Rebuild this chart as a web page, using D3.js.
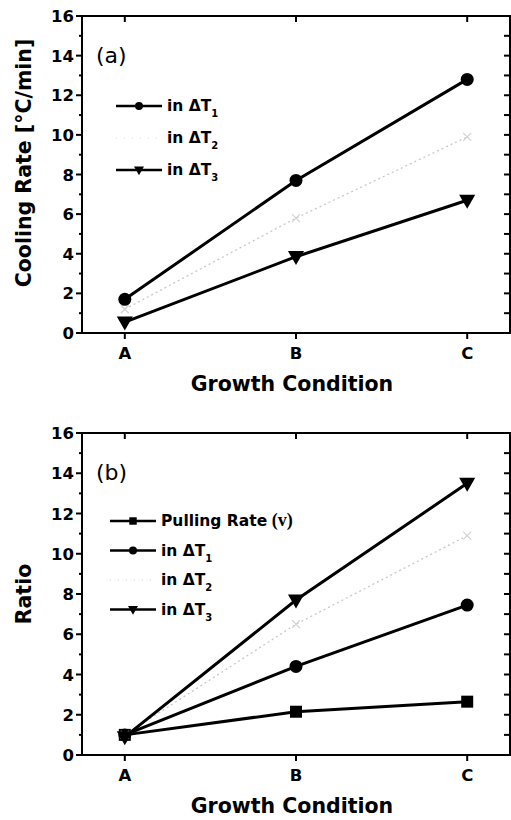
<!DOCTYPE html>
<html>
	<head>
		<title>Cooling Rate and Ratio</title>

		<style>
			body
			{
				margin: 0;
				background: #fff;
			}

			svg
			{
				width: 511px;
				height: 820px;
				display: block;
			}

			.frame, .tick
			{
				stroke: #000;
				stroke-width: 2px;
				fill: none;
			}

			.tickText
			{
				font: bold 16.5px "DejaVu Sans", sans-serif;
				fill: #000;
			}

			.axisTitle
			{
				font: bold 20.5px "DejaVu Sans", sans-serif;
				fill: #000;
				text-anchor: middle;
			}

			.panelLabel
			{
				font: 22px "DejaVu Sans", sans-serif;
				fill: #000;
			}

			.legendText
			{
				font: bold 15.5px "DejaVu Sans", sans-serif;
				fill: #000;
			}

			.seriesLine
			{
				fill: none;
				stroke: #000;
				stroke-width: 3px;
			}

			.faintLine
			{
				fill: none;
				stroke: #c8c8c8;
				stroke-width: 1.3px;
				stroke-dasharray: 2,3;
			}
		</style>

		<script src="https://d3js.org/d3.v7.min.js"></script>
	</head>

	<body>
		<svg></svg>

		<script>
			// categories and tick labels
			const categories = ["A", "B", "C"];
			const yMajorTicks = [0, 2, 4, 6, 8, 10, 12, 14, 16];
			const yMinorTicks = [1, 3, 5, 7, 9, 11, 13, 15];

			// panel (a): cooling rate [°C/min]
			const coolT1 = [1.7, 7.7, 12.8];
			const coolT2 = [1.2, 5.8, 9.9];
			const coolT3 = [0.55, 3.85, 6.7];

			// panel (b): ratio
			const ratioPull = [1.0, 2.15, 2.65];
			const ratioT1 = [1.0, 4.4, 7.45];
			const ratioT2 = [1.0, 6.5, 10.9];
			const ratioT3 = [0.9, 7.7, 13.5];

			const svg = d3.select("svg");

			const x = d3.scalePoint()
				.domain(categories)
				.range([82, 510])
				.padding(0.25);

			function marker(g, type, cx, cy, s, color)
			{
				if (type === "circle")
				{
					g.append("circle").attr("cx", cx).attr("cy", cy).attr("r", s).attr("fill", color);
				}
				else if (type === "square")
				{
					g.append("rect").attr("x", cx - s).attr("y", cy - s)
						.attr("width", 2 * s).attr("height", 2 * s).attr("fill", color);
				}
				else if (type === "tri")
				{
					g.append("path")
						.attr("d", "M" + (cx - s * 1.15) + "," + (cy - s * 0.8) +
							"L" + (cx + s * 1.15) + "," + (cy - s * 0.8) +
							"L" + cx + "," + (cy + s * 1.2) + "Z")
						.attr("fill", color);
				}
				else if (type === "faint")
				{
					g.append("path")
						.attr("d", "M" + (cx - 4) + "," + (cy - 4) + "L" + (cx + 4) + "," + (cy + 4) +
							"M" + (cx - 4) + "," + (cy + 4) + "L" + (cx + 4) + "," + (cy - 4))
						.attr("stroke", "#d2d2d2").attr("stroke-width", 1.2).attr("fill", "none");
				}
			}

			function drawPanel(opt)
			{
				const y = d3.scaleLinear().domain([0, 16]).range([opt.bottom, opt.top]);
				const g = svg.append("g");
				const x0 = x.range()[0], x1 = x.range()[1];

				// series
				opt.series.forEach(function(s)
				{
					const line = d3.line()
						.x(function(d, i) { return x(categories[i]); })
						.y(function(d) { return y(d); });

					g.append("path")
						.datum(s.values)
						.attr("class", s.faint ? "faintLine" : "seriesLine")
						.attr("d", line);

					s.values.forEach(function(v, i)
					{
						marker(g, s.type, x(categories[i]), y(v), s.size, "#000");
					});
				});

				// frame
				g.append("rect")
					.attr("class", "frame")
					.attr("x", x0).attr("y", opt.top)
					.attr("width", x1 - x0).attr("height", opt.bottom - opt.top);

				// left ticks (outward) with labels
				g.selectAll("line.lmaj").data(yMajorTicks).enter().append("line")
					.attr("class", "tick")
					.attr("x1", x0 - 6).attr("x2", x0)
					.attr("y1", function(d) { return y(d); })
					.attr("y2", function(d) { return y(d); });

				g.selectAll("line.lmin").data(yMinorTicks).enter().append("line")
					.attr("class", "tick")
					.attr("x1", x0 - 3).attr("x2", x0)
					.attr("y1", function(d) { return y(d); })
					.attr("y2", function(d) { return y(d); });

				g.selectAll("text.ylab").data(yMajorTicks).enter().append("text")
					.attr("class", "tickText")
					.attr("text-anchor", "end")
					.attr("x", x0 - 8)
					.attr("y", function(d) { return y(d) + 6; })
					.text(function(d) { return d; });

				// right ticks (inward)
				g.selectAll("line.rmaj").data(yMajorTicks.concat(yMinorTicks)).enter().append("line")
					.attr("class", "tick")
					.attr("x1", x1 - 6).attr("x2", x1)
					.attr("y1", function(d) { return y(d); })
					.attr("y2", function(d) { return y(d); });

				// bottom ticks (outward) and top ticks (inward)
				g.selectAll("line.bt").data(categories).enter().append("line")
					.attr("class", "tick")
					.attr("x1", function(d) { return x(d); })
					.attr("x2", function(d) { return x(d); })
					.attr("y1", opt.bottom).attr("y2", opt.bottom + 6);

				g.selectAll("line.tt").data(categories).enter().append("line")
					.attr("class", "tick")
					.attr("x1", function(d) { return x(d); })
					.attr("x2", function(d) { return x(d); })
					.attr("y1", opt.top).attr("y2", opt.top + 6);

				g.selectAll("text.xlab").data(categories).enter().append("text")
					.attr("class", "tickText")
					.attr("text-anchor", "middle")
					.attr("x", function(d) { return x(d); })
					.attr("y", opt.bottom + 26)
					.text(function(d) { return d; });

				// titles
				g.append("text")
					.attr("class", "axisTitle")
					.attr("x", (x0 + x1) / 2 - 4)
					.attr("y", opt.bottom + 58)
					.text("Growth Condition");

				g.append("text")
					.attr("class", "axisTitle")
					.attr("transform", "translate(31," + opt.yTitleCenter + ") rotate(-90)")
					.text(opt.yTitle);

				g.append("text")
					.attr("class", "panelLabel")
					.attr("x", 96)
					.attr("y", opt.top + 47)
					.text(opt.label);

				// legend
				opt.series.forEach(function(s, i)
				{
					const ly = opt.legendTop + i * opt.legendStep;
					const lx0 = opt.legendX, lx1 = opt.legendX + 46;

					if (s.faint)
					{
						g.append("line")
							.attr("x1", lx0).attr("x2", lx1).attr("y1", ly).attr("y2", ly)
							.attr("stroke", "#d8d8d8").attr("stroke-width", 1.2)
							.attr("stroke-dasharray", "1,7");
					}
					else
					{
						g.append("line")
							.attr("x1", lx0).attr("x2", lx1).attr("y1", ly).attr("y2", ly)
							.attr("stroke", "#000").attr("stroke-width", 2.5);
						marker(g, s.type, (lx0 + lx1) / 2, ly, s.size * 0.62, "#000");
					}

					const t = g.append("text")
						.attr("class", "legendText")
						.attr("x", lx1 + 5)
						.attr("y", ly + 5);

					if (s.sub)
					{
						t.append("tspan").text(s.name);
						t.append("tspan").attr("dy", 6).style("font-size", "10px").text(s.sub);
					}
					else
					{
						t.append("tspan").text(s.name);
						t.append("tspan")
							.style("font-family", "'Liberation Serif', serif")
							.style("font-size", "18px")
							.text(" (v)");
					}
				});
			}

			drawPanel({
				top: 16,
				bottom: 333,
				label: "(a)",
				yTitle: "Cooling Rate [\u00B0C/min]",
				yTitleCenter: 163,
				legendX: 116,
				legendTop: 106,
				legendStep: 32,
				series: [
					{ values: coolT1, type: "circle", size: 6.5, name: "in \u0394T", sub: "1" },
					{ values: coolT2, type: "faint", size: 4, name: "in \u0394T", sub: "2", faint: true },
					{ values: coolT3, type: "tri", size: 7, name: "in \u0394T", sub: "3" }
				]
			});

			drawPanel({
				top: 433,
				bottom: 755,
				label: "(b)",
				yTitle: "Ratio",
				yTitleCenter: 594,
				legendX: 110,
				legendTop: 521,
				legendStep: 29.5,
				series: [
					{ values: ratioPull, type: "square", size: 6, name: "Pulling Rate" },
					{ values: ratioT1, type: "circle", size: 6.5, name: "in \u0394T", sub: "1" },
					{ values: ratioT2, type: "faint", size: 4, name: "in \u0394T", sub: "2", faint: true },
					{ values: ratioT3, type: "tri", size: 7, name: "in \u0394T", sub: "3" }
				]
			});
		</script>
	</body>
</html>
